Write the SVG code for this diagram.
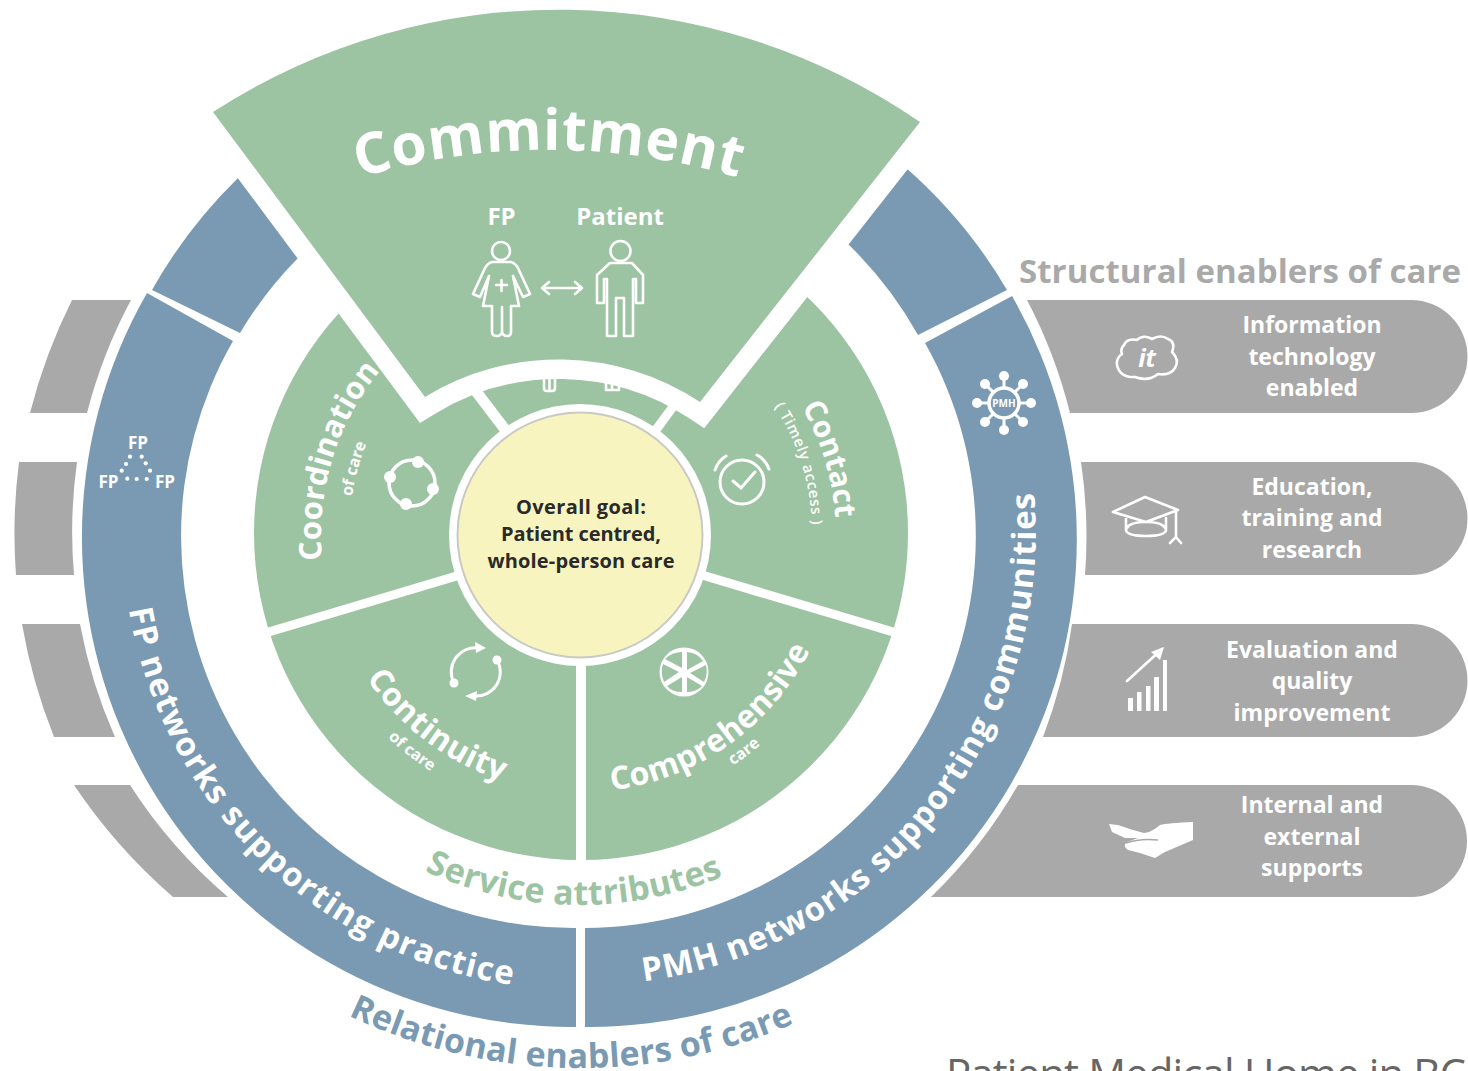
<svg xmlns="http://www.w3.org/2000/svg" xmlns:xlink="http://www.w3.org/1999/xlink" width="1468" height="1071" viewBox="0 0 1468 1071">
<style>
text{font-family:"Open Sans","Noto Sans",sans-serif;font-weight:700;fill:#fff}
.ln{fill:none;stroke:#fff;stroke-width:2.6;stroke-linejoin:round;stroke-linecap:round}
.blue{fill:#7A9AB3}.grey{fill:#A9A9A9}.green{fill:#9CC3A2}
.mid{text-anchor:middle}
.opt{font-size:23px;text-anchor:middle}
.gl{font-size:20px;fill:#2a2a2a;text-anchor:middle}
</style>
<defs>
<path id="pCommit" d="M149 285A660 660 0 0 1 949 285"/>
<path id="pCoord" d="M330 602A258 258 0 0 1 410 340"/>
<path id="pCoordS" d="M353 570A228 228 0 0 1 405 381"/>
<path id="pContact" d="M770.500 364.400A255 255 0 0 1 833.500 570.500"/>
<path id="pTimely" d="M750 375A232 232 0 0 1 810 565"/>
<path id="pCompre" d="M534 788A257 257 0 0 0 834 576"/>
<path id="pCompS" d="M614.600 809A276 276 0 0 0 835 643"/>
<path id="pCont" d="M335.600 614.700A258 258 0 0 0 572 792.800"/>
<path id="pContS" d="M321.400 639.900A280 280 0 0 0 542 812.300"/>
<path id="pServ" d="M336 813.800A372 372 0 0 0 814 822"/>
<path id="pRel" d="M229 936.800A535 535 0 0 0 916.700 948.800"/>
<path id="pFP" d="M124 495A457 457 0 0 0 627.600 987.500"/>
<path id="pPMH" d="M548 984A452 452 0 0 0 1015 398"/>
</defs>
<rect width="1468" height="1071" fill="#fff"/>

<g id="structural-tabs">
<path class="grey" d="M1027 300H1411A56.500 56.500 0 0 1 1411 413H1070A505 505 0 0 0 1027 300Z"/>
<path class="grey" d="M1081 462H1411A56.500 56.500 0 0 1 1411 575H1085A505 505 0 0 0 1081 462Z"/>
<path class="grey" d="M1072 624H1411A56.500 56.500 0 0 1 1411 737H1043A505 505 0 0 0 1072 624Z"/>
<path class="grey" d="M1018 785H1411A56 56 0 0 1 1411 897H931A505 505 0 0 0 1018 785Z"/>
<path class="grey" d="M72 300H131A505 505 0 0 0 87 413H30A561 561 0 0 1 72 300Z"/>
<path class="grey" d="M19 462H77A505 505 0 0 0 74 575H16A561 561 0 0 1 19 462Z"/>
<path class="grey" d="M22 624H80A505 505 0 0 0 115 737H54A561 561 0 0 1 22 624Z"/>
<path class="grey" d="M74 785H130A505 505 0 0 0 228 897H173A561 561 0 0 1 74 785Z"/>
</g>

<g id="relational-ring">
<path class="blue" d="M238 178A495 495 0 0 0 152 290L240 333A397 397 0 0 1 298 258Z"/>
<path class="blue" d="M147 293A490 490 0 0 0 576 1027V928A392 392 0 0 1 233 341Z"/>
<path class="blue" d="M1012 296A488 488 0 0 1 585 1027V928A392 392 0 0 0 925 343Z"/>
<path class="blue" d="M905 167A495 495 0 0 1 1007 290L918 335A397 397 0 0 0 847 243Z"/>
</g>

<g id="service-disc">
<circle class="green" cx="581" cy="533" r="327"/>
<g stroke="#fff" fill="none">
<path stroke-width="10" d="M581 650V870"/>
<path stroke-width="9" d="M470 572L262 634"/>
<path stroke-width="9" d="M692 572L900 634"/>
<path stroke-width="11" d="M475 390L510 436"/>
<path stroke-width="9" d="M675 404L650 438"/>
</g>
<circle cx="580" cy="535" r="131" fill="#fff"/>
</g>

<g id="commitment">
<path d="M213 112A636 636 0 0 1 920 122L700 402A256 256 0 0 0 425 397Z" fill="#fff" stroke="#fff" stroke-width="39" stroke-linejoin="miter" stroke-miterlimit="6"/>
<path class="ln" stroke-width="2" d="M544 377V388Q544 391 547 391H552Q555 391 555 388V377M549.500 377V391M606 377V390H619V377M612 377V390"/>
<path d="M213 112A636 636 0 0 1 920 122L700 402A256 256 0 0 0 425 397Z" class="green"/>
<text font-size="57" letter-spacing="0.700" class="mid"><textPath href="#pCommit" startOffset="50%">Commitment</textPath></text>
<text x="501.500" y="225" font-size="24" class="mid">FP</text>
<text x="620" y="225" font-size="24" class="mid">Patient</text>
<g id="fp-figure">
<circle class="ln" cx="501" cy="251" r="9"/>
<path class="ln" d="M492 262H511Q515 263 518 268L530 294L523 297L513 276L519 306H511V332Q511 336 507 336Q503 336 502 332V307V332Q501 336 497 336Q492 336 492 332V306H483L489 276L480 297L473 294L485 268Q488 263 492 262Z"/>
<path class="ln" d="M496 285H507M501.500 280V291"/>
</g>
<g id="patient-figure">
<circle class="ln" cx="620.500" cy="251" r="10"/>
<path class="ln" d="M610 263H632L643 275V303H636V279H633V336H624V298H616V336H607V279H604V303H597V275Z"/>
</g>
<path class="ln" d="M543 288H581M549 282L542 288L549 294M575 282L582 288L575 294"/>
</g>

<g id="coordination">
<text font-size="31" class="mid"><textPath href="#pCoord" startOffset="50%">Coordination</textPath></text>
<text font-size="16" class="mid"><textPath href="#pCoordS" startOffset="50%">of care</textPath></text>
<circle cx="412" cy="483" r="23" fill="none" stroke="#fff" stroke-width="3.500"/>
<g fill="#fff"><circle cx="418" cy="462" r="6"/><circle cx="390" cy="477" r="6"/><circle cx="433" cy="489" r="6"/><circle cx="406" cy="504" r="6"/></g>
</g>

<g id="contact">
<text font-size="30" class="mid"><textPath href="#pContact" startOffset="50%">Contact</textPath></text>
<text font-size="15" letter-spacing="0.600" class="mid" style="font-weight:600"><textPath href="#pTimely" startOffset="50%">( Timely access )</textPath></text>
<g fill="none" stroke="#fff" stroke-width="3" stroke-linecap="round">
<circle cx="742" cy="482" r="22"/>
<path d="M733 481L741 488L755 472"/>
<path d="M715 470Q718 461 726 456M757 455Q765 459 769 469"/>
</g>
</g>

<g id="continuity">
<text font-size="32" letter-spacing="0.500" class="mid"><textPath href="#pCont" startOffset="50%">Continuity</textPath></text>
<text font-size="16" class="mid"><textPath href="#pContS" startOffset="50%">of care</textPath></text>
<g fill="none" stroke="#fff" stroke-width="3">
<path d="M454 683A24 24 0 0 1 478 648M497 660A24 24 0 0 1 474 696"/>
</g>
<g fill="#fff"><circle cx="454" cy="683" r="4.500"/><circle cx="497" cy="660" r="4.500"/><path d="M475 642L486 648L476 653Z"/><path d="M477 691L465 696L476 701Z"/></g>
</g>

<g id="comprehensive">
<text font-size="32" letter-spacing="0.300" class="mid"><textPath href="#pCompre" startOffset="50%">Comprehensive</textPath></text>
<text font-size="16" class="mid"><textPath href="#pCompS" startOffset="50%">care</textPath></text>
<circle cx="684" cy="672" r="24.500" fill="#fff"/>
<g class="green">
<path d="M682 652V668L665 659Q672 652 682 652Z"/>
<path d="M687 652Q698 653 703 661L687 670Z"/>
<path d="M706 665Q708 675 704 682L690 673Z"/>
<path d="M702 686Q696 692 687 692V677Z"/>
<path d="M682 692Q672 692 667 686L682 677Z"/>
<path d="M664 682Q660 672 663 664L679 672Z"/>
</g>
</g>

<g id="goal">
<circle cx="580" cy="535" r="122.500" fill="#F7F4BF" stroke="#C9C9C4" stroke-width="2"/>
<text class="gl" x="581" y="514" textLength="130">Overall goal:</text>
<text class="gl" x="581" y="541" textLength="160">Patient centred,</text>
<text class="gl" x="581" y="568" textLength="187">whole-person care</text>
</g>

<text id="service-attributes" font-size="34" letter-spacing="0.300" class="mid" style="fill:#9CC3A2"><textPath href="#pServ" startOffset="50%">Service attributes</textPath></text>

<g id="fp-networks">
<text font-size="33" letter-spacing="1.300" class="mid"><textPath href="#pFP" startOffset="50%">FP networks supporting practice</textPath></text>
<text x="138" y="449" font-size="17" class="mid">FP</text>
<text x="108.500" y="488" font-size="17" class="mid">FP</text>
<text x="165" y="488" font-size="17" class="mid">FP</text>
<g fill="#fff"><circle cx="130" cy="456.700" r="2.100"/><circle cx="141.700" cy="456.700" r="2.100"/><circle cx="126" cy="464" r="2.100"/><circle cx="145.700" cy="463.300" r="2.100"/><circle cx="121.700" cy="470.700" r="2.100"/><circle cx="150" cy="470.700" r="2.100"/><circle cx="127.300" cy="478.700" r="2.100"/><circle cx="136.700" cy="479" r="2.100"/><circle cx="146.700" cy="479" r="2.100"/></g>
</g>

<g id="pmh-networks">
<text font-size="33" letter-spacing="1.050" class="mid"><textPath href="#pPMH" startOffset="50%">PMH networks supporting communities</textPath></text>
<g id="pmh-icon" fill="#fff" stroke="#fff">
<circle cx="1004" cy="403" r="15" fill="none" stroke-width="3.500"/>
<path stroke-width="3" d="M1004 388V376M1004 418V430M989 403H977M1019 403H1031M993.400 392.400L985 384M1014.600 413.600L1023 422M1014.600 392.400L1023 384M993.400 413.600L985 422"/>
<g stroke="none"><circle cx="1004" cy="376" r="5"/><circle cx="1004" cy="430" r="5"/><circle cx="977" cy="403" r="5"/><circle cx="1031" cy="403" r="5"/><circle cx="985" cy="384" r="5"/><circle cx="1023" cy="422" r="5"/><circle cx="1023" cy="384" r="5"/><circle cx="985" cy="422" r="5"/></g>
</g>
<text x="1004" y="407" font-size="10" class="mid">PMH</text>
</g>

<text id="relational-title" font-size="34" letter-spacing="0.200" class="mid" style="fill:#7A9AB3"><textPath href="#pRel" startOffset="50%">Relational enablers of care</textPath></text>

<text id="structural-title" x="1019" y="283" font-size="33" textLength="442" style="fill:#A9A9A9">Structural enablers of care</text>

<g id="it-enabler">
<path class="ln" d="M1124 345Q1127 338 1137 340Q1143 334 1152 339Q1161 334 1168 339Q1176 342 1172 352Q1180 360 1175 368Q1170 376 1158 374Q1148 382 1135 377Q1120 378 1117 365Q1116 358 1122 354Q1120 349 1124 345Z"/>
<text x="1147" y="367" font-size="25" class="mid" style="font-style:italic">it</text>
<text class="opt" x="1312" y="333">Information</text><text class="opt" x="1312" y="365">technology</text><text class="opt" x="1312" y="396">enabled</text>
</g>
<g id="education-enabler">
<path class="ln" d="M1113 512L1145 497L1178 510L1146 522ZM1126 518V530Q1127 536 1146 536Q1165 536 1166 530V518M1127 528Q1130 522 1146 522Q1162 522 1165 528M1176 511V538M1170 543L1176 537L1181 543"/>
<text class="opt" x="1312" y="495">Education,</text><text class="opt" x="1312" y="526">training and</text><text class="opt" x="1312" y="558">research</text>
</g>
<g id="evaluation-enabler">
<g fill="#fff"><rect x="1128" y="698" width="5" height="13"/><rect x="1137" y="692" width="4.500" height="19"/><rect x="1146" y="686" width="4.500" height="25"/><rect x="1154" y="677" width="5" height="34"/><rect x="1163" y="660" width="4" height="51"/></g>
<path class="ln" stroke-width="2" d="M1127 681L1162 649"/><path fill="#fff" d="M1164 647L1160 660L1151 652Z"/>
<text class="opt" x="1312" y="658">Evaluation and</text><text class="opt" x="1312" y="689">quality</text><text class="opt" x="1312" y="721">improvement</text>
</g>
<g id="supports-enabler">
<path fill="#fff" d="M1109 824L1118 825L1124 827L1133 830L1144 833Q1152 832 1160 825Q1168 823 1193 822V840L1165 852L1155 858L1140 853L1128 850Q1122 846 1127 842L1138 838L1125 838L1112 832Z"/>
<path fill="none" stroke="#A9A9A9" stroke-width="1.500" d="M1126 843Q1140 838 1158 840"/>
<text class="opt" x="1312" y="813">Internal and</text><text class="opt" x="1312" y="845">external</text><text class="opt" x="1312" y="876">supports</text>
</g>

<text id="footer" x="946" y="1089" font-size="42" textLength="520" style="fill:#666;font-weight:400">Patient Medical Home in BC</text>
</svg>
